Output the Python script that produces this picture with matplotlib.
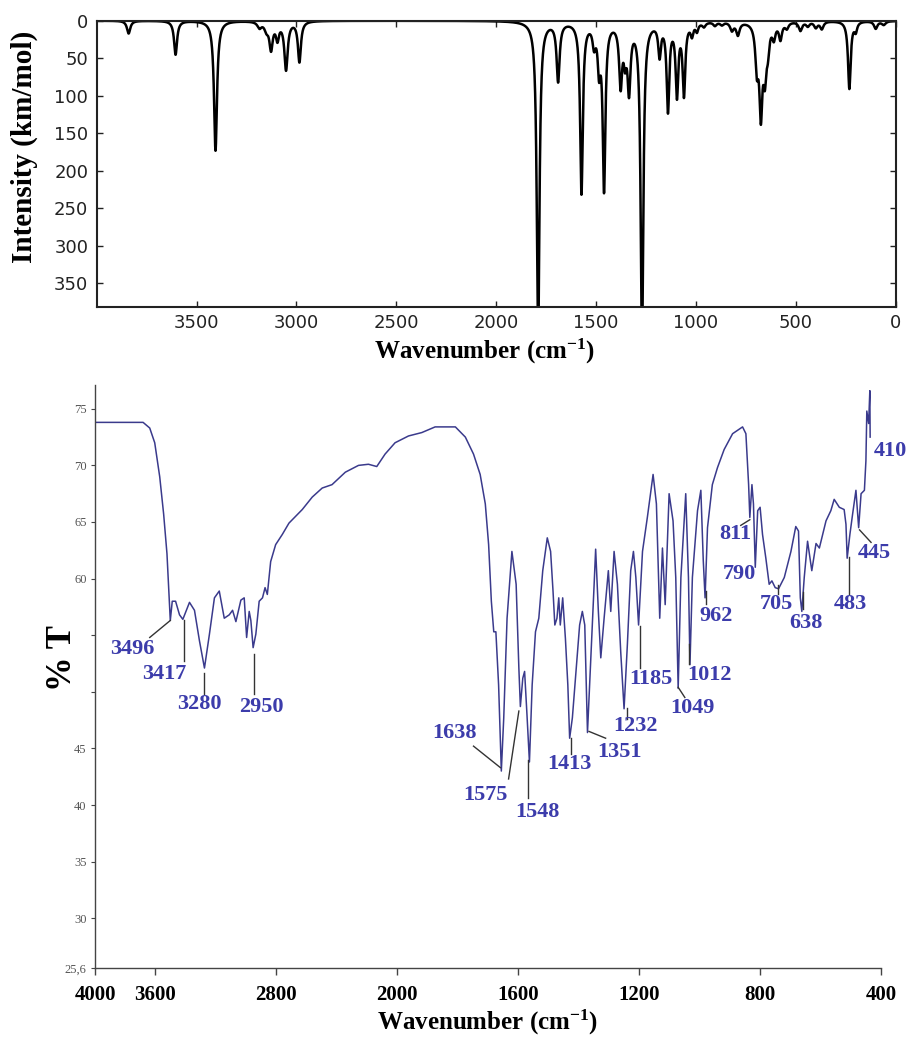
import numpy as np
import matplotlib
matplotlib.use("Agg")
import matplotlib.pyplot as plt

plt.rcParams["mathtext.fontset"] = "custom"
plt.rcParams["mathtext.rm"] = "Liberation Serif"
plt.rcParams["mathtext.bf"] = "Liberation Serif:bold"
plt.rcParams["mathtext.it"] = "Liberation Serif:italic"

# ---------------- data: computed (DFT) IR spectrum, peak table ----------------
calc_center = [3840, 3605, 3405, 3185, 3150, 3127, 3095, 3052, 2985,
               1790, 1690, 1573, 1510, 1485, 1460, 1377, 1355, 1335, 1270,
               1182, 1140, 1095, 1060, 1020, 995, 960, 905, 870, 820, 790,
               695, 675, 655, 640, 610, 577, 545, 477, 440, 400, 370,
               232, 200, 100, 60]
calc_height = [17, 45, 173, 8, 10, 36, 22, 64, 54,
               430, 78, 228, 26, 55, 220, 80, 38, 86, 430,
               42, 116, 95, 95, 16, 11, 6, 5, 4, 11, 17,
               55, 116, 62, 30, 19, 22, 8, 12, 6, 8, 10,
               90, 12, 10, 5]
calc_hwhm = [10, 9, 9, 12, 12, 10, 9, 10, 9,
             8, 9, 8, 9, 8, 8, 9, 8, 9, 8,
             8, 8, 8, 8, 8, 8, 10, 10, 10, 10, 10,
             9, 9, 9, 9, 9, 9, 10, 10, 10, 10, 10,
             8, 8, 10, 12]

# ---------------- data: experimental FTIR trace ----------------
ftir_wn = [4000, 3682, 3638, 3605, 3572, 3546, 3524, 3511, 3502, 3489, 3467,
           3441, 3419, 3375, 3342, 3309, 3276, 3243, 3210, 3178, 3145, 3112,
           3090, 3068, 3035, 3013, 2997, 2980, 2969, 2954, 2936, 2914, 2892,
           2875, 2860, 2838, 2805, 2761, 2717, 2629, 2563, 2497, 2432, 2344,
           2257, 2191, 2136, 2081, 2015, 1963, 1919, 1875, 1842, 1808, 1775,
           1748, 1726, 1709, 1698, 1689, 1681, 1674, 1665, 1656, 1648, 1637,
           1621, 1607, 1598, 1593, 1585, 1579, 1571, 1563, 1554, 1543, 1532,
           1519, 1504, 1493, 1485, 1479, 1472, 1466, 1461, 1453, 1444, 1436,
           1430, 1421, 1408, 1397, 1388, 1380, 1371, 1359, 1349, 1344, 1335,
           1327, 1316, 1302, 1294, 1283, 1272, 1261, 1250, 1239, 1228, 1219,
           1211, 1202, 1189, 1173, 1154, 1143, 1132, 1123, 1114, 1101, 1088,
           1079, 1071, 1062, 1046, 1037, 1032, 1024, 1007, 996, 988, 982,
           974, 958, 941, 919, 891, 858, 847, 838, 834, 827, 822, 816, 808,
           800, 792, 781, 770, 761, 750, 739, 720, 698, 682, 673, 667, 662,
           654, 643, 635, 629, 615, 604, 582, 566, 555, 538, 522, 516, 512,
           503, 494, 483, 474, 466, 455, 450, 447, 441, 437, 436]
ftir_T = [73.8, 73.8, 73.3, 72.0, 69.0, 65.7, 62.2, 58.6, 56.3, 58.0, 58.0,
          56.8, 56.4, 57.9, 57.2, 54.5, 52.1, 55.1, 58.3, 58.9, 56.5, 56.8,
          57.2, 56.2, 58.1, 58.3, 54.8, 57.1, 56.3, 53.9, 55.1, 58.0, 58.3,
          59.2, 58.6, 61.5, 63.0, 63.9, 64.9, 66.1, 67.2, 68.0, 68.3, 69.4,
          70.0, 70.1, 69.9, 71.0, 72.0, 72.6, 72.9, 73.4, 73.4, 73.4, 72.5,
          71.0, 69.2, 66.6, 63.0, 58.0, 55.3, 55.3, 50.6, 43.0, 47.7, 56.5,
          62.4, 59.5, 52.1, 48.7, 51.2, 51.8, 47.9, 43.8, 50.6, 55.3, 56.5,
          60.7, 63.6, 62.4, 58.9, 55.9, 56.5, 58.3, 55.9, 58.3, 54.7, 50.6,
          45.9, 47.7, 52.1, 55.9, 57.1, 55.9, 46.4, 53.5, 59.5, 62.6, 57.1,
          53.0, 56.5, 60.7, 57.1, 62.4, 59.5, 53.5, 48.5, 54.2, 60.7, 62.4,
          60.1, 55.9, 62.4, 65.4, 69.2, 66.6, 56.5, 62.7, 57.7, 67.5, 65.1,
          60.1, 50.3, 60.1, 67.5, 60.1, 52.4, 60.1, 66.0, 67.8, 61.6, 58.3,
          64.5, 68.3, 69.8, 71.4, 72.8, 73.4, 72.8, 68.3, 65.4, 68.3, 66.6,
          61.0, 66.0, 66.3, 63.9, 61.8, 59.5, 59.8, 59.2, 59.1, 60.1, 62.4,
          64.6, 64.2, 58.3, 57.1, 60.1, 63.3, 61.8, 60.7, 63.1, 62.7, 65.1,
          66.0, 67.0, 66.3, 66.1, 64.8, 61.8, 63.9, 65.7, 67.8, 64.5, 67.5,
          67.8, 70.4, 74.8, 73.7, 76.6, 72.5]

peak_labels = ["3496", "3417", "3280", "2950", "1638", "1575", "1548", "1413",
               "1351", "1232", "1185", "1049", "1012", "962", "811", "790",
               "705", "638", "483", "445", "410"]

top_xticks = [3500, 3000, 2500, 2000, 1500, 1000, 500, 0]
top_yticks = [0, 50, 100, 150, 200, 250, 300, 350]
bot_xticks = [4000, 3600, 2800, 2000, 1600, 1200, 800, 400]
bot_yticks = [75, 70, 65, 60, 55, 50, 45, 40, 35, 30, 25.6]
bot_yticklabels = ["75", "70", "65", "60", "", "", "45", "40", "35", "30", "25,6"]

# ---------------- layout of the peak annotations (data coords) ----------------
# (text x, text y, leader line [(x0, y0), (x1, y1)] or None)
label_layout = [
    (3750, 53.8, [(3638, 54.8), (3502, 56.3)]),
    (3539, 51.6, [(3414, 52.7), (3414, 56.3)]),
    (3309, 48.9, [(3276, 49.8), (3276, 51.7)]),
    (2901, 48.7, [(2949, 49.8), (2949, 53.3)]),
    (1811, 46.4, [(1748, 45.2), (1659, 43.3)]),
    (1709, 40.9, [(1632, 42.3), (1598, 48.3)]),
    (1538, 39.4, [(1567, 40.6), (1567, 44.0)]),
    (1432, 43.6, [(1427, 44.5), (1427, 45.9)]),
    (1266, 44.7, [(1366, 46.5), (1311, 45.9)]),
    (1211, 47.0, [(1239, 47.6), (1239, 48.6)]),
    (1161, 51.1, [(1198, 52.1), (1198, 55.8)]),
    (1023, 48.6, [(1071, 50.4), (1049, 49.5)]),
    (967, 51.5, [(1034, 52.5), (1034, 54.2)]),
    (945, 56.7, [(978, 57.8), (978, 58.9)]),
    (881, 63.9, [(864, 64.7), (834, 65.2)]),
    (868, 60.4, None),
    (746, 57.8, [(741, 58.6), (741, 59.4)]),
    (650, 56.1, [(659, 57.3), (659, 58.8)]),
    (501, 57.8, [(507, 58.6), (507, 61.9)]),
    (422, 62.3, [(471, 64.3), (433, 63.2)]),
    (370, 71.3, None),
]

SERIF = ["Liberation Serif", "DejaVu Serif"]
XLABEL = r"Wavenumber (cm$^{\mathbf{-1}}$)"

fig = plt.figure(figsize=(9.11, 10.42), dpi=100)

# ================= top panel =================
ax1 = fig.add_axes([0.1061, 0.7057, 0.8771, 0.2745])
grid = np.linspace(4000, 0, 16001)
c = np.array(calc_center, float)[:, None]
h = np.array(calc_height, float)[:, None]
w = np.array(calc_hwhm, float)[:, None]
spec = (h / (1.0 + ((grid[None, :] - c) / w) ** 2)).sum(axis=0)
ax1.plot(grid, spec, color="black", lw=1.8)
ax1.set_xlim(4000, 0)
ax1.set_ylim(381, 0)
ax1.set_xticks(top_xticks)
ax1.set_yticks(top_yticks)
ax1.tick_params(direction="in", length=4, width=1, top=True, right=True,
                labelsize=13, colors="#222222")
ax1.tick_params(axis="y", pad=6)
ax1.tick_params(axis="x", pad=5)
for lab in ax1.get_xticklabels() + ax1.get_yticklabels():
    lab.set_fontfamily("DejaVu Sans")
for s in ax1.spines.values():
    s.set_linewidth(1.5)
    s.set_color("#222222")
ax1.set_ylabel("Intensity (km/mol)", family=SERIF, fontweight="bold",
               fontsize=21, va="center")
ax1.yaxis.set_label_coords(-0.09, 0.56)
ax1.set_xlabel(XLABEL, family=SERIF, fontweight="bold", fontsize=18, va="center")
ax1.xaxis.set_label_coords(0.486, -0.158)

# ================= bottom panel =================
ax2 = fig.add_axes([0.1043, 0.0710, 0.8628, 0.5595])


def fwd(x):
    x = np.asarray(x, float)
    return np.where(x > 2000, 2000 + (x - 2000) / 2.0, x)


def inv(y):
    y = np.asarray(y, float)
    return np.where(y > 2000, 2000 + (y - 2000) * 2.0, y)


ax2.set_xscale("function", functions=(fwd, inv))
ax2.plot(ftir_wn, ftir_T, color="#3a3a8c", lw=1.1)
ax2.set_xlim(4000, 400)
ax2.set_ylim(25.6, 77.1)
ax2.set_xticks(bot_xticks)
ax2.set_xticklabels([str(t) for t in bot_xticks])
ax2.minorticks_off()
ax2.set_yticks(bot_yticks)
ax2.set_yticklabels(bot_yticklabels)
ax2.spines["top"].set_visible(False)
ax2.spines["right"].set_visible(False)
for k in ("left", "bottom"):
    ax2.spines[k].set_color("#444444")
    ax2.spines[k].set_linewidth(1.0)
ax2.tick_params(axis="x", direction="out", length=5, width=1, color="#444444",
                pad=7, labelsize=15)
ax2.tick_params(axis="y", direction="out", length=3, width=0.8, color="#444444",
                pad=3, labelsize=9, labelcolor="#555555")
for lab in ax2.get_xticklabels():
    lab.set_fontfamily(SERIF)
    lab.set_fontweight("bold")
for lab in ax2.get_yticklabels():
    lab.set_fontfamily(SERIF)

ax2.set_ylabel("% T", family=SERIF, fontweight="bold", fontsize=25, va="center")
ax2.yaxis.set_label_coords(-0.042, 0.532)
ax2.set_xlabel(XLABEL, family=SERIF, fontweight="bold", fontsize=18, va="center")
ax2.xaxis.set_label_coords(0.5, -0.0926)

for text, (tx, ty, line) in zip(peak_labels, label_layout):
    ax2.text(tx, ty, text, ha="center", va="center", family=SERIF,
             fontweight="bold", fontsize=16, color="#3c3cab", clip_on=False)
    if line is not None:
        (x0, y0), (x1, y1) = line
        ax2.plot([x0, x1], [y0, y1], color="#333333", lw=1.0)

fig.savefig("out.png", dpi=100)
